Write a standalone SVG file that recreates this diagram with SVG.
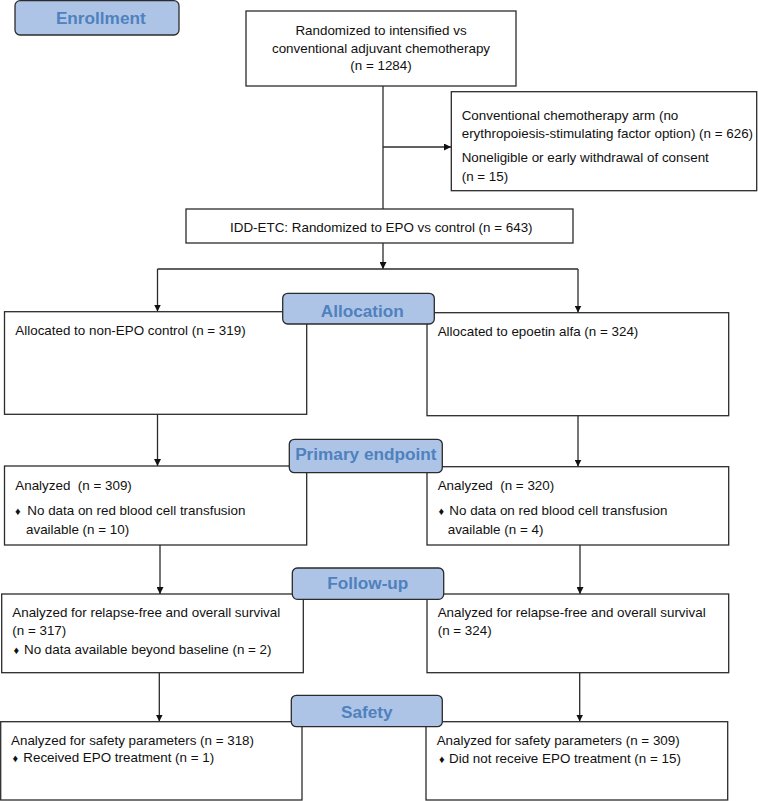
<svg xmlns="http://www.w3.org/2000/svg" width="758" height="801" viewBox="0 0 758 801">
<style>
.box{fill:#fff;stroke:#2b2b2b;stroke-width:1.3}
.lbl{fill:#adc4e7;stroke:#2b2b2b;stroke-width:1.3}
.lt{font-family:"Liberation Sans",Arial,sans-serif;font-weight:bold;font-size:17.2px;fill:#4f81bd;text-anchor:middle}
.t{font-family:"Liberation Sans",Arial,sans-serif;font-size:13.4px;fill:#111;white-space:pre}
.c{text-anchor:middle}
.d{font-size:11px}
.ln{fill:none;stroke:#2b2b2b;stroke-width:1.3}
</style>
<defs>
<marker id="ah" viewBox="0 0 10 10" refX="10" refY="5" markerWidth="7" markerHeight="7" markerUnits="userSpaceOnUse" orient="auto">
<path d="M0,0 L10,5 L0,10 z" fill="#111"/>
</marker>
</defs>

<g id="connectors">
<path class="ln" d="M383,86 V209"/>
<path class="ln" d="M383,147 H451" marker-end="url(#ah)"/>
<path class="ln" d="M383,243 V269" marker-end="url(#ah)"/>
<path class="ln" d="M157.5,269 H578"/>
<path class="ln" d="M157.5,269 V311.5" marker-end="url(#ah)"/>
<path class="ln" d="M578,269 V312.5" marker-end="url(#ah)"/>
<path class="ln" d="M157.5,414.3 V466" marker-end="url(#ah)"/>
<path class="ln" d="M578,415.7 V466.5" marker-end="url(#ah)"/>
<path class="ln" d="M160,545 V594" marker-end="url(#ah)"/>
<path class="ln" d="M580,545 V594" marker-end="url(#ah)"/>
<path class="ln" d="M159.3,672.7 V721.5" marker-end="url(#ah)"/>
<path class="ln" d="M579.7,672.7 V721.5" marker-end="url(#ah)"/>
</g>

<g id="randomized">
<rect class="box" x="246" y="11" width="270" height="75"/>
<text class="t c" x="381" y="35">Randomized to intensified vs</text>
<text class="t c" x="381" y="52.5">conventional adjuvant chemotherapy</text>
<text class="t c" x="381" y="70">(n = 1284)</text>
</g>

<g id="excluded">
<rect class="box" x="451.3" y="91.7" width="305.4" height="99"/>
<text class="t" x="461.7" y="120">Conventional chemotherapy arm (no</text>
<text class="t" x="461.7" y="137.5">erythropoiesis-stimulating factor option) (n = 626)</text>
<text class="t" x="461.7" y="161.5">Noneligible or early withdrawal of consent</text>
<text class="t" x="461.7" y="180.5">(n = 15)</text>
</g>

<g id="iddetc">
<rect class="box" x="186" y="209" width="387" height="34"/>
<text class="t c" x="381.3" y="231.5">IDD-ETC: Randomized to EPO vs control (n = 643)</text>
</g>

<g id="alloc-left">
<rect class="box" x="4.5" y="311.7" width="302.2" height="102.6"/>
<text class="t" x="15.3" y="334.8">Allocated to non-EPO control (n = 319)</text>
</g>
<g id="alloc-right">
<rect class="box" x="427" y="312.7" width="301.7" height="103"/>
<text class="t" x="437.7" y="336.4">Allocated to epoetin alfa (n = 324)</text>
</g>

<g id="primary-left">
<rect class="box" x="4.5" y="466" width="302.2" height="79"/>
<text class="t" x="15.3" y="489.5">Analyzed  (n = 309)</text>
<text class="t" x="15" y="514.7"><tspan class="d">♦</tspan><tspan x="27.3">No data on red blood cell transfusion</tspan></text>
<text class="t" x="26" y="534">available (n = 10)</text>
</g>
<g id="primary-right">
<rect class="box" x="427" y="466.7" width="301.7" height="78.3"/>
<text class="t" x="437.7" y="489.5">Analyzed  (n = 320)</text>
<text class="t" x="438.5" y="514.7"><tspan class="d">♦</tspan><tspan x="449.3">No data on red blood cell transfusion</tspan></text>
<text class="t" x="447.7" y="534">available (n = 4)</text>
</g>

<g id="followup-left">
<rect class="box" x="1.7" y="594" width="301.6" height="78.7"/>
<text class="t" x="12.3" y="617">Analyzed for relapse-free and overall survival</text>
<text class="t" x="12.3" y="635.4">(n = 317)</text>
<text class="t" x="13.5" y="654.4"><tspan class="d">♦</tspan><tspan x="24">No data available beyond baseline (n = 2)</tspan></text>
</g>
<g id="followup-right">
<rect class="box" x="427" y="594" width="301.7" height="78.7"/>
<text class="t" x="437.7" y="617">Analyzed for relapse-free and overall survival</text>
<text class="t" x="437.7" y="635.4">(n = 324)</text>
</g>

<g id="safety-left">
<rect class="box" x="0.7" y="721.7" width="301.3" height="78.3"/>
<text class="t" x="11" y="744.7">Analyzed for safety parameters (n = 318)</text>
<text class="t" x="12.5" y="762.4"><tspan class="d">♦</tspan><tspan x="23.3">Received EPO treatment (n = 1)</tspan></text>
</g>
<g id="safety-right">
<rect class="box" x="426" y="721.7" width="301.7" height="78.3"/>
<text class="t" x="436.7" y="744.7">Analyzed for safety parameters (n = 309)</text>
<text class="t" x="439" y="763.4"><tspan class="d">♦</tspan><tspan x="449">Did not receive EPO treatment (n = 15)</tspan></text>
</g>

<g id="label-enrollment">
<rect class="lbl" x="15" y="0.7" width="164" height="34.3" rx="5"/>
<text class="lt" x="100.8" y="23.5">Enrollment</text>
</g>
<g id="label-allocation">
<rect class="lbl" x="282.7" y="293.3" width="151.6" height="30.7" rx="5"/>
<text class="lt" x="362.3" y="316.9">Allocation</text>
</g>
<g id="label-primary">
<rect class="lbl" x="289.3" y="439.3" width="153" height="33.4" rx="5"/>
<text class="lt" x="365.8" y="460.2">Primary endpoint</text>
</g>
<g id="label-followup">
<rect class="lbl" x="292.3" y="568" width="151.4" height="31.3" rx="5"/>
<text class="lt" x="367.8" y="588.5">Follow-up</text>
</g>
<g id="label-safety">
<rect class="lbl" x="291.3" y="695.3" width="151" height="31.4" rx="5"/>
<text class="lt" x="366.8" y="717.9">Safety</text>
</g>
</svg>
